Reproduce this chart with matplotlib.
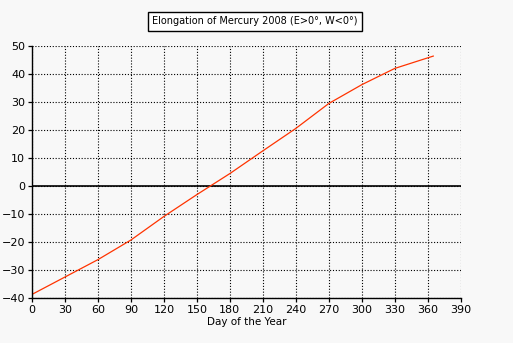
import numpy as np
import matplotlib.pyplot as plt

# Elongation of Mercury during 2008 (east positive, west negative)
days = [0, 30, 60, 90, 120, 150, 180, 210, 240, 270, 300, 330, 365]
elongation = [-38.6, -32.4, -26.2, -19.2, -10.8, -3.0, 4.5, 12.6, 20.6, 29.5, 36.2, 42.0, 46.4]

x_ticks = np.arange(0, 391, 30)
y_ticks = np.arange(-40, 51, 10)

bg = '#f8f8f8'
fig = plt.figure(figsize=(5.13, 3.43), dpi=100, facecolor=bg)
ax = fig.add_axes([0.0624, 0.1303, 0.8357, 0.7356], facecolor=bg)

ax.plot(days, elongation, color='#ff3300', linewidth=0.9, zorder=4)
ax.axhline(0, color='black', linewidth=1.2, zorder=3)

ax.set_xlim(0, 390)
ax.set_ylim(-40, 50)
ax.set_xticks(x_ticks)
ax.set_yticks(y_ticks)
# dotted grid
ax.grid(True, color='black', linestyle=(0, (1, 1.6)), linewidth=0.8)

for side in ['top', 'right']:
    ax.spines[side].set_visible(False)
for side in ['left', 'bottom']:
    ax.spines[side].set_linewidth(1.0)
    ax.spines[side].set_zorder(5)

ax.tick_params(direction='out', length=3, width=0.9, labelsize=8, pad=2, colors='black')
ax.set_xlabel('Day of the Year', fontsize=7.5, labelpad=1)

fig.text(0.497, 0.938, 'Elongation of Mercury 2008 (E>0°, W<0°)', fontsize=7,
         ha='center', va='center',
         bbox=dict(boxstyle='square,pad=0.45', facecolor='white', edgecolor='black', linewidth=1))

fig.savefig('out.png', dpi=100, facecolor=bg)
